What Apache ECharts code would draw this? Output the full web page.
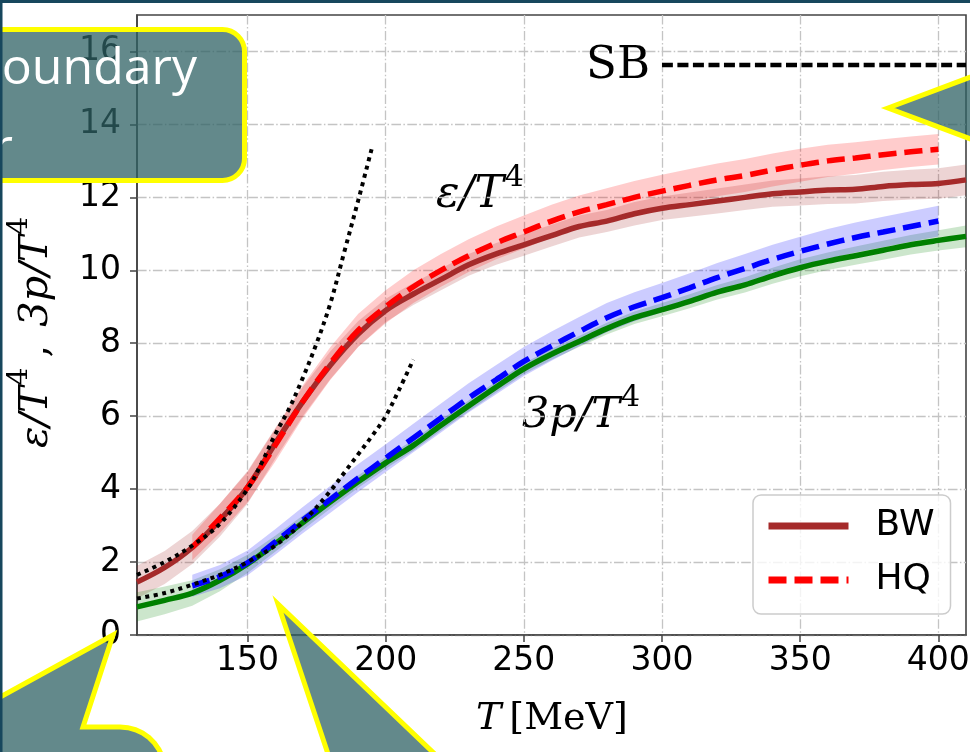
<!DOCTYPE html>
<html><head><meta charset="utf-8">
<script src="https://cdn.jsdelivr.net/npm/echarts@6/dist/echarts.min.js"></script>
<style>html,body{margin:0;padding:0;background:#fff}#c{width:970px;height:752px}</style>
</head><body><div id="c"></div>
<script>
// ---- data ----
const bwTemps = [110,120,130,140,150,160,170,180,190,200,210,220,230,240,250,260,270,280,290,300,310,320,330,340,350,360,370,380,390,400,410];
const bwEps    = [1.45,1.85,2.4,3.15,4.05,5.25,6.4,7.4,8.25,8.9,9.35,9.75,10.15,10.45,10.7,10.95,11.2,11.35,11.55,11.7,11.8,11.9,12.0,12.1,12.15,12.2,12.22,12.3,12.35,12.38,12.48];
const bwEpsErr = [0.45,0.45,0.45,0.45,0.45,0.42,0.4,0.38,0.35,0.32,0.3,0.3,0.3,0.3,0.3,0.3,0.3,0.3,0.32,0.32,0.33,0.34,0.35,0.36,0.37,0.38,0.39,0.4,0.41,0.42,0.42];
const bwP      = [0.77,0.95,1.15,1.5,1.95,2.5,3.08,3.65,4.2,4.72,5.2,5.75,6.28,6.8,7.3,7.7,8.05,8.4,8.7,8.92,9.15,9.4,9.6,9.85,10.07,10.25,10.4,10.55,10.7,10.82,10.93];
const bwPErr   = [0.4,0.38,0.35,0.3,0.25,0.22,0.2,0.18,0.17,0.16,0.15,0.15,0.15,0.15,0.15,0.15,0.15,0.16,0.17,0.18,0.19,0.2,0.21,0.22,0.23,0.24,0.25,0.26,0.27,0.28,0.3];

const hqTemps  = [130,140,150,160,170,180,190,200,210,220,230,240,250,260,270,280,290,300,310,320,330,340,350,360,370,380,390,400];
const hqEps    = [2.4,3.2,4.05,5.2,6.4,7.45,8.35,9.0,9.55,10.0,10.4,10.75,11.05,11.35,11.6,11.8,12.0,12.17,12.33,12.48,12.6,12.75,12.88,13.0,13.08,13.17,13.25,13.32];
const hqEpsErr = [0.35,0.4,0.42,0.45,0.45,0.45,0.45,0.45,0.45,0.45,0.45,0.45,0.45,0.45,0.45,0.45,0.45,0.45,0.45,0.45,0.45,0.45,0.45,0.44,0.43,0.42,0.42,0.42];
const hqP      = [1.35,1.6,1.98,2.55,3.15,3.72,4.3,4.85,5.4,5.95,6.5,7.0,7.5,7.92,8.32,8.7,9.0,9.25,9.52,9.8,10.05,10.3,10.52,10.72,10.9,11.05,11.2,11.35];
const hqPErr   = [0.3,0.32,0.34,0.35,0.36,0.37,0.38,0.38,0.39,0.4,0.4,0.4,0.4,0.4,0.4,0.4,0.4,0.4,0.4,0.4,0.4,0.4,0.4,0.41,0.41,0.42,0.42,0.42];

const hrgEpsTemps = [110,120,130,140,150,155,160,165,170,175,180,185,190,195];
const hrgEps      = [1.65,2.0,2.45,3.05,4.0,4.7,5.5,6.2,7.05,8.0,9.1,10.5,11.9,13.35];
const hrgPTemps   = [110,120,130,140,150,160,170,180,185,190,195,200,205,210];
const hrgP        = [1.0,1.15,1.38,1.65,2.0,2.45,3.1,3.95,4.45,4.95,5.45,6.0,6.75,7.55];

const sbTemps = [300,410];
const sbLevel = 15.63;

const xTicks = [150,200,250,300,350,400];
const yTicks = [0,2,4,6,8,10,12,14,16];

// ---- helpers ----
function pairs(ts, vs){ return ts.map((t,i)=>[t, vs[i]]); }
function band(name, ts, vs, es, color){
  return {
    type:'custom', name:name, silent:true, clip:true, z:1,
    data:[[ts[0], vs[0]]],
    renderItem:function(params, api){
      const up=[], lo=[];
      for(let i=0;i<ts.length;i++){
        up.push(api.coord([ts[i], vs[i]+es[i]]));
        lo.push(api.coord([ts[i], vs[i]-es[i]]));
      }
      return {type:'polygon', shape:{points: up.concat(lo.reverse())}, style:{fill:color}};
    }
  };
}
function line(name, data, color, type, width, z){
  return {type:'line', name:name, data:data, symbol:'none', showSymbol:false, smooth:0.35,
    silent:true, z:z||3, lineStyle:{color:color, width:width, type:type}, itemStyle:{color:color}};
}
const mctx = document.createElement('canvas').getContext('2d');
function mathGroup(x, y, parts, rotation, z){
  let cx=0; const children=[];
  parts.forEach(p=>{
    if(p.gap!==undefined){ cx+=p.gap; return; }
    const fam = p.family || '"DejaVu Serif"';
    const font = (p.italic?'italic ':'') + p.size + 'px ' + fam;
    mctx.font = font;
    const w = mctx.measureText(p.t).width;
    children.push({type:'text', x:cx, y:(p.dy||0),
      style:{text:p.t, font:font, fill:'#000', align:'left', textAlign:'left', verticalAlign:'middle', textVerticalAlign:'middle'}});
    cx += w;
  });
  return {type:'group', x:x, y:y, rotation:rotation||0, z:z||50, children:children};
}
const teal = 'rgba(47,97,100,0.75)';
const yellow = '#ffff00';

// bottom-left callout outline
const blPts = [[113,635],[83,727],[120,727]];
for(let a=-90;a<=0;a+=10){ const r=a*Math.PI/180; blPts.push([120+45*Math.cos(r), 772+45*Math.sin(r)]); }
blPts.push([165,800],[-60,800],[-60,730]);

const chart = echarts.init(document.getElementById('c'), null, {renderer:'canvas'});
const gridLine = {show:true, lineStyle:{color:'#c4c4c4', width:1.3, type:[9.6,2.4,1.5,2.4]}};
chart.setOption({
  animation:false,
  backgroundColor:'#ffffff',
  grid:{left:137, top:15, right:4, bottom:117, show:true, borderColor:'#444', borderWidth:1.6, backgroundColor:'transparent', containLabel:false, outerBoundsMode:'none'},
  xAxis:{type:'value', min:110, max:410,
    axisLine:{show:true, onZero:false, lineStyle:{color:'#444', width:1.6}},
    axisTick:{show:true, length:7, customValues:xTicks, lineStyle:{color:'#444', width:1.5}},
    axisLabel:{customValues:xTicks, margin:10, fontFamily:'DejaVu Sans', fontSize:33, color:'#000'},
    splitLine:gridLine},
  yAxis:{type:'value', min:0, max:17,
    axisLine:{show:true, onZero:false, lineStyle:{color:'#444', width:1.6}},
    axisTick:{show:true, length:7, customValues:yTicks, lineStyle:{color:'#444', width:1.5}},
    axisLabel:{customValues:yTicks, margin:16, fontFamily:'DejaVu Sans', fontSize:33, color:'#000'},
    splitLine:gridLine},
  legend:{data:['BW','HQ'], orient:'vertical', left:753, top:495, itemWidth:80, itemHeight:14, itemGap:14,
    padding:[11,16,14,12], backgroundColor:'rgba(255,255,255,0.8)', borderColor:'#cccccc', borderWidth:1.5, borderRadius:8,
    lineStyle:{width:7}, itemStyle:{color:'transparent', borderColor:'transparent', borderWidth:0, opacity:0}, selectedMode:false,
    textStyle:{fontFamily:'DejaVu Sans', fontSize:36, color:'#000', padding:[0,0,0,22], lineHeight:40}},
  series:[
    band('bwEpsBand', bwTemps, bwEps, bwEpsErr, 'rgba(165,42,42,0.2)'),
    band('hqEpsBand', hqTemps, hqEps, hqEpsErr, 'rgba(255,0,0,0.2)'),
    band('bwPBand', bwTemps, bwP, bwPErr, 'rgba(0,128,0,0.2)'),
    band('hqPBand', hqTemps, hqP, hqPErr, 'rgba(0,0,255,0.2)'),
    line('BW', pairs(bwTemps,bwEps), '#a52a2a', 'solid', 5.5, 3),
    line('BW p', pairs(bwTemps,bwP), '#008000', 'solid', 5.5, 3),
    line('HQ', pairs(hqTemps,hqEps), '#ff0000', [18,8], 5.5, 4),
    line('HQ p', pairs(hqTemps,hqP), '#0000ff', [18,8], 5.5, 4),
    line('HRG e', pairs(hrgEpsTemps,hrgEps), '#000000', [4,4.5], 4, 5),
    line('HRG p', pairs(hrgPTemps,hrgP), '#000000', [4,4.5], 4, 5),
    line('SB', pairs(sbTemps,[sbLevel,sbLevel]), '#000000', [11,4.5], 4.5, 5)
  ],
  graphic:{elements:[
    {type:'text', x:650, y:66, z:50, style:{text:'SB', font:'45px "DejaVu Serif"', fill:'#000', align:'right', textAlign:'right', verticalAlign:'middle', textVerticalAlign:'middle'}},
    mathGroup(436, 196, [{t:'ε/T', size:44, italic:true},{gap:1},{t:'4', size:30, dy:-18}]),
    mathGroup(522, 416, [{t:'3p/T', size:43, italic:true},{gap:1},{t:'4', size:30, dy:-18}]),
    mathGroup(476, 719, [{t:'T', size:38, italic:true},{gap:8},{t:'[MeV]', size:38}]),
    mathGroup(37, 448, [{t:'ε/T', size:40, italic:true},{gap:1},{t:'4', size:28, dy:-17},{gap:10},{t:',', size:40},{gap:18},{t:'3p/T', size:40, italic:true},{gap:1},{t:'4', size:28, dy:-17}], Math.PI/2),
    // slide overlays
    {type:'rect', z:100, shape:{x:-60, y:29.5, width:304.5, height:151, r:22}, style:{fill:teal, stroke:yellow, lineWidth:5}},
    {type:'text', z:101, x:197, y:70, style:{text:'Boundary', font:'50px "Open Sans"', fill:'#ffffff', align:'right', textAlign:'right', verticalAlign:'middle', textVerticalAlign:'middle'}},
    {type:'text', z:101, x:13, y:150, style:{text:'r', font:'50px "Open Sans"', fill:'#ffffff', align:'right', textAlign:'right', verticalAlign:'middle', textVerticalAlign:'middle'}},
    {type:'polygon', z:100, shape:{points:[[888,108],[1000,66],[1000,150]]}, style:{fill:teal, stroke:yellow, lineWidth:5}},
    {type:'polygon', z:100, shape:{points:blPts}, style:{fill:teal, stroke:yellow, lineWidth:5}},
    {type:'polygon', z:100, shape:{points:[[278,604],[330,760],[441,760]]}, style:{fill:teal, stroke:yellow, lineWidth:5}},
    {type:'rect', z:110, shape:{x:0, y:0, width:970, height:3}, style:{fill:'#17475d'}},
    {type:'rect', z:110, shape:{x:0, y:0, width:2.5, height:752}, style:{fill:'#17475d'}}
  ]}
});
</script>
</body></html>
